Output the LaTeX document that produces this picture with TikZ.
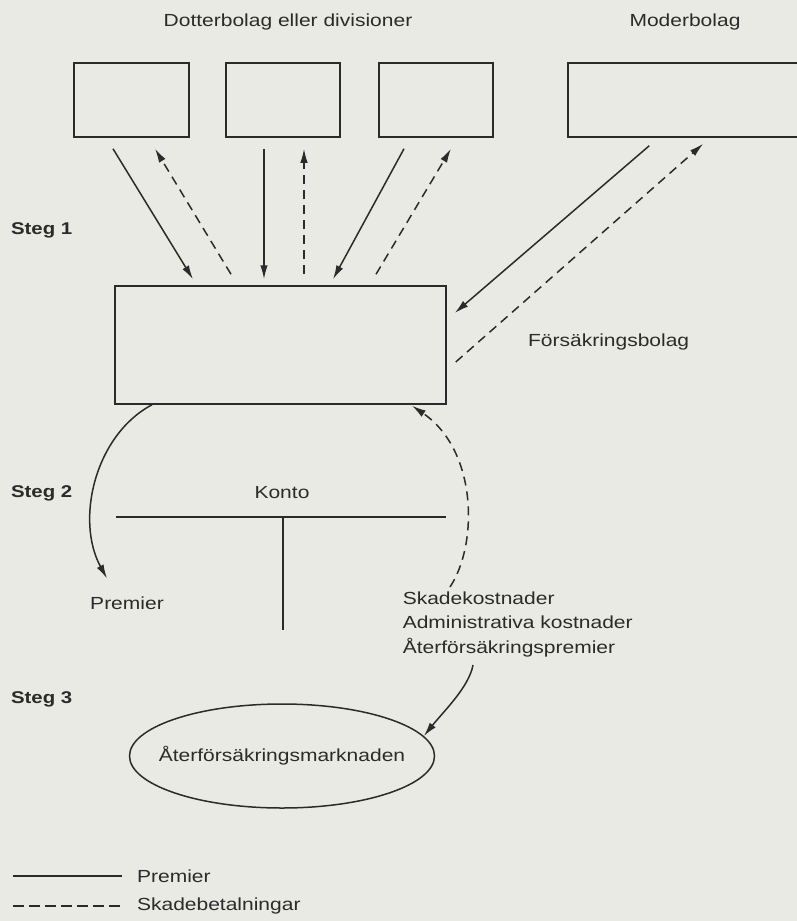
\documentclass[tikz,border=0pt]{standalone}
\usepackage{fontspec}
\setmainfont[FakeStretch=1.2]{Liberation Sans}
\usetikzlibrary{calc,positioning,arrows.meta,shapes.geometric}
\definecolor{rfpaper}{HTML}{E9EAE4}
\definecolor{rfink}  {HTML}{2B2B2B}

\begin{document}
\begin{tikzpicture}[x=1pt, y=-1pt, line width=1.5pt, color=rfink,
    every node/.style={font=\fontsize{17.5}{24.5}\selectfont, text=rfink},
    unitbox/.style={draw, rectangle, minimum height=74pt, inner sep=0pt},
    prem/.style={-{Latex[length=14pt,width=7.5pt]}},
    skade/.style={prem, dash pattern=on 9pt off 6pt},
    skadeline/.style={dash pattern=on 11pt off 5pt},
    stegtext/.style={anchor=west, font=\fontsize{17}{20}\selectfont\bfseries}]
      \fill[rfpaper] (0,0) rectangle (797,921);
      \useasboundingbox (0,0) rectangle (797,921);
      \node (tdot) at (288,22) {Dotterbolag eller divisioner};
      \node (tmod) at (685,22) {Moderbolag};
      \node[unitbox, minimum width=115pt] (d1) at (131.5,100) {};
      \node[unitbox, minimum width=114pt] (d2) at (283,100) {};
      \node[unitbox, minimum width=114pt] (d3) at (436,100) {};
      \node[unitbox, minimum width=234pt] (mb) at (685,100) {};
      \node[unitbox, minimum width=331pt, minimum height=118pt] (fb) at (280.5,345) {};
      \node[anchor=west] (fblbl) at (524,342) {Försäkringsbolag};
      \node[stegtext] (s1) at (7,230) {Steg 1};
      \node[stegtext] (s2) at (7,493) {Steg 2};
      \node[stegtext] (s3) at (7,699) {Steg 3};
      \draw[prem]  ($(d1.south)+(-18.5,11)$) -- ($(fb.north)+(-87.5,-6)$);
      \draw[skade] ($(fb.north)+(-49.5,-11)$) -- ($(d1.south)+(23.5,11)$);
      \draw[prem]  ($(d2.south)+(-19,11)$) -- ($(fb.north)+(-16.5,-6)$);
      \draw[skade] ($(fb.north)+(23.5,-11)$) -- ($(d2.south)+(21,11)$);
      \draw[prem]  ($(d3.south)+(-32,11)$) -- ($(fb.north)+(52.5,-6)$);
      \draw[skade] ($(fb.north)+(95.5,-11)$) -- ($(d3.south)+(15,11)$);
      \draw[prem]  ($(mb.south west)+(82,8)$) -- ($(fb.east)+(8,-32)$);
      \draw[skade] ($(fb.east)+(9,17)$) -- ($(mb.south west)+(136,6)$);
      \node (konto) at (282,493) {Konto};
      \coordinate (kl) at (116,517);
      \coordinate (kr) at (446,517);
      \coordinate (km) at (283,517);
      \coordinate (kb) at (283,630);
      \draw (kl) -- (kr);
      \draw (km) -- (kb);
      \node (plbl) at (127,603) {Premier};
      \draw[prem] ($(fb.south)+(-128.5,0)$) .. controls (95,435) and (75,520) .. ($(plbl.north)+(-20,-14)$);
      \node[anchor=north west, align=left, inner sep=0pt] (kost) at (402,591)
        {Skadekostnader\\Administrativa kostnader\\Återförsäkringspremier};
      \draw[skade] ($(kost.north west)+(48,-4)$) .. controls +(28,-42) and +(66,45) .. ($(fb.south)+(131.5,1)$);
      \node[draw, ellipse, minimum width=305pt, minimum height=104pt, inner xsep=-16pt, inner ysep=0pt] (rm) at (282,756)
        {Återförsäkringsmarknaden};
      \draw[prem] ($(kost.north west)+(71,74)$) .. controls +(-4,22) and +(20,-25) .. (rm.8);
      \coordinate (l1a) at (13,876);
      \coordinate (l1b) at (122,876);
      \coordinate (l2a) at (13,906);
      \coordinate (l2b) at (122,906);
      \draw (l1a) -- (l1b);
      \draw[skadeline] (l2a) -- (l2b);
      \node[anchor=west] (lgp) at (133,876) {Premier};
      \node[anchor=west] (lgs) at (133,906) {Skadebetalningar};
    \end{tikzpicture}
\end{document}
